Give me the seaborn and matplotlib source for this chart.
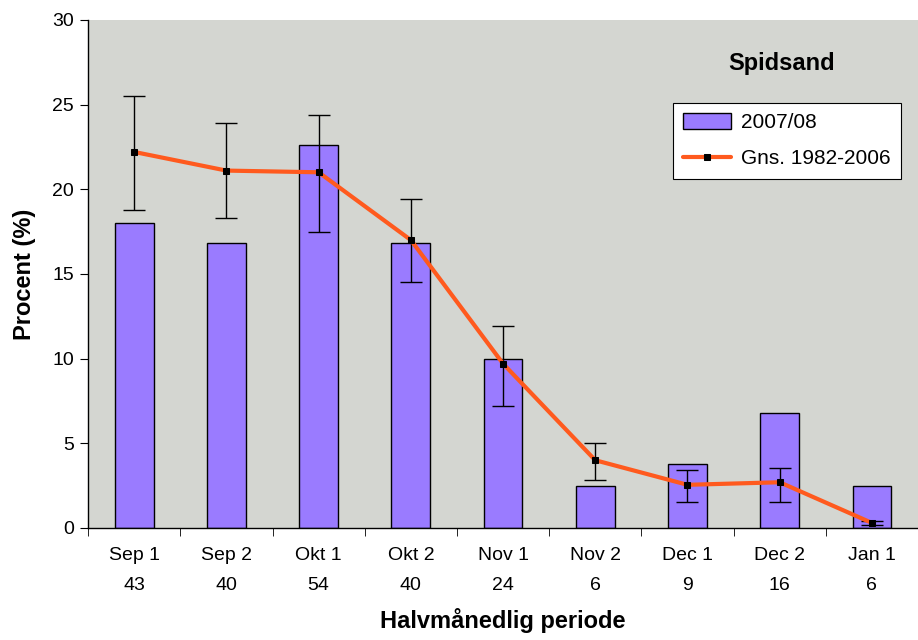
import seaborn as sns
import numpy as np
import pandas as pd
import matplotlib as mpl
import matplotlib.pyplot as plt
from matplotlib.ticker import FixedLocator, MultipleLocator

# data
perioder = ["Sep 1", "Sep 2", "Okt 1", "Okt 2", "Nov 1", "Nov 2", "Dec 1", "Dec 2", "Jan 1"]
antal = [43, 40, 54, 40, 24, 6, 9, 16, 6]
pct_2007 = [18.0, 16.8, 22.6, 16.8, 10.0, 2.5, 3.8, 6.8, 2.5]
gns = [22.2, 21.1, 21.0, 17.0, 9.7, 4.0, 2.55, 2.7, 0.3]
gns_upper = [25.5, 23.9, 24.4, 19.4, 11.95, 5.0, 3.45, 3.55, 0.4]
gns_lower = [18.8, 18.3, 17.5, 14.5, 7.2, 2.85, 1.55, 1.55, 0.15]

sns.set_style("white")
plt.rcParams['font.family'] = ['Liberation Sans', 'DejaVu Sans']
mpl.rc('text', color='black')
mpl.rc('axes', labelcolor='black')
mpl.rc('xtick', color='black')
mpl.rc('ytick', color='black')

df = pd.DataFrame({
    "periode": [f"{p}\n{n}" for p, n in zip(perioder, antal)],
    "pos": np.arange(len(perioder)),
    "pct": pct_2007,
    "gns": gns,
})

fig = plt.figure(figsize=(9.18, 6.4), dpi=100)
ax = fig.add_axes([0.096, 0.175, 0.904, 0.794])
ax.set_facecolor("#D4D6D1")

sns.barplot(data=df, x="periode", y="pct", ax=ax, color="#9A7BFF",
            width=0.42, edgecolor="black", linewidth=1.0, saturation=1,
            label="2007/08")

yerr = [np.array(gns) - np.array(gns_lower), np.array(gns_upper) - np.array(gns)]
ax.errorbar(df["pos"], gns, yerr=yerr, fmt="none", ecolor="black",
            elinewidth=1.0, capsize=8, capthick=1.0, zorder=3)
sns.lineplot(data=df, x="pos", y="gns", ax=ax, color="#FF5A1E", linewidth=3,
             marker="s", markersize=4, markerfacecolor="black",
             markeredgecolor="black", label="Gns. 1982-2006", zorder=4)

ax.set_xlim(-0.5, len(perioder) - 0.5)
ax.set_ylim(0, 30)
ax.yaxis.set_major_locator(MultipleLocator(5))
ax.set_xticks(df["pos"])
ax.set_xticklabels(df["periode"], fontsize=14, linespacing=1.95)
ax.tick_params(axis="x", which="major", length=0, pad=14)
ax.xaxis.set_minor_locator(FixedLocator(np.arange(-0.5, len(perioder), 1)))
ax.tick_params(axis="x", which="minor", length=6, direction="out", bottom=True, color="black")
ax.tick_params(axis="y", length=6, direction="out", left=True, labelsize=14, color="black", pad=4)

for s in ["top", "right"]:
    ax.spines[s].set_visible(False)
for s in ["left", "bottom"]:
    ax.spines[s].set_color("black")
    ax.spines[s].set_linewidth(1.0)

ax.set_ylabel("Procent (%)", fontsize=17, fontweight="bold", labelpad=12)
ax.set_xlabel("Halvmånedlig periode", fontsize=17, fontweight="bold", labelpad=10)

ax.text(0.836, 0.915, "Spidsand", transform=ax.transAxes, ha="center",
        va="center", fontsize=17, fontweight="bold")

handles, labels = ax.get_legend_handles_labels()
order = [labels.index("2007/08"), labels.index("Gns. 1982-2006")]
leg = ax.legend([handles[i] for i in order], [labels[i] for i in order],
                loc="upper right", bbox_to_anchor=(0.98, 0.837), fontsize=15,
                frameon=True, fancybox=False, framealpha=1, edgecolor="black",
                handlelength=2.3, handleheight=0.8, borderpad=0.5,
                labelspacing=0.8, handletextpad=0.5, borderaxespad=0)
leg.get_frame().set_linewidth(0.8)

fig.savefig("out.png", dpi=100)
